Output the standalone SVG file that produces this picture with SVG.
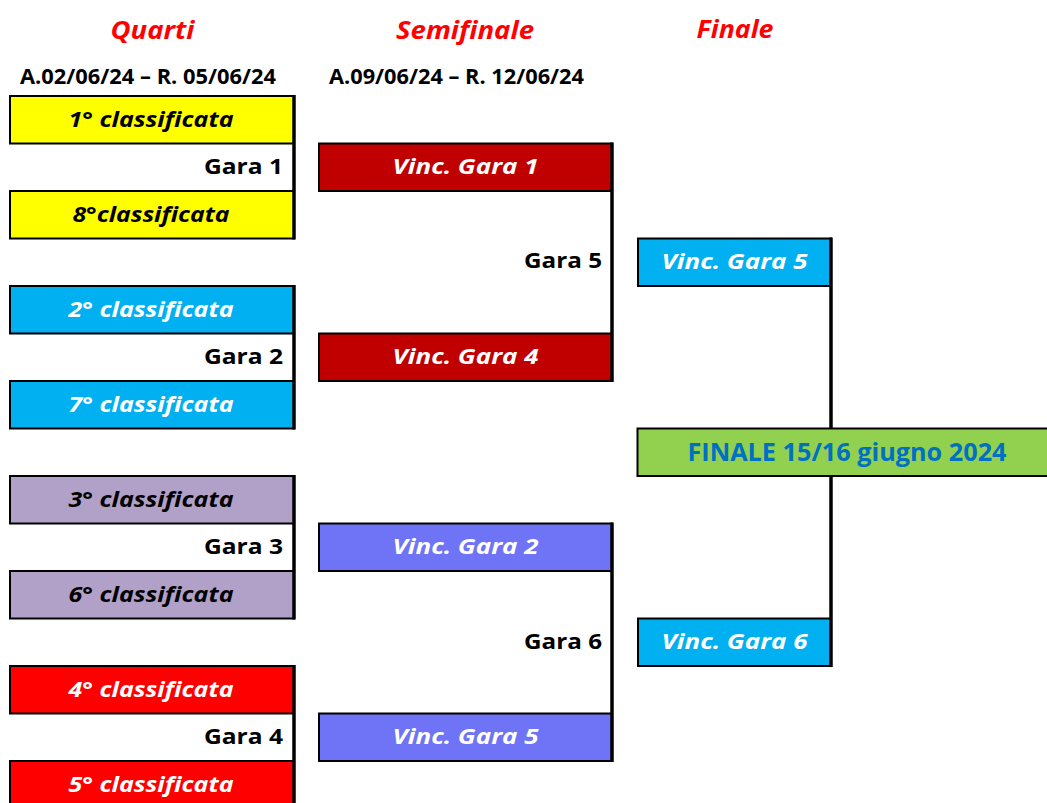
<svg xmlns="http://www.w3.org/2000/svg" width="1047" height="803" viewBox="0 0 1047 803">
<style>
.box{stroke:#000;stroke-width:2}
.t{font-family:"Open Sans","Noto Sans","Liberation Sans",sans-serif;font-weight:bold;font-size:22px;text-anchor:middle}
.i{font-style:italic}
.w{fill:#fff}
.k{fill:#000}
.lbl{font-family:"Open Sans","Noto Sans","Liberation Sans",sans-serif;font-weight:bold;font-size:22px;text-anchor:end;fill:#000}
.title{font-family:"Open Sans","Noto Sans","Liberation Sans",sans-serif;font-weight:bold;font-style:italic;font-size:25px;text-anchor:middle;fill:#ff0000}
.date{font-family:"Open Sans","Noto Sans","Liberation Sans",sans-serif;font-weight:bold;font-size:20.5px;text-anchor:middle;fill:#000}
.thick{stroke:#000;stroke-width:3.5;fill:none}
.yel{fill:#ffff00}.cy{fill:#00b0f0}.lav{fill:#b1a0c7}.red{fill:#ff0000}.dred{fill:#c00000}.peri{fill:#6f73f5}.grn{fill:#92d050}
</style>
<rect width="1047" height="803" fill="#fff"/>
<g id="titles">
<text class="title" x="152.5" y="38.5" textLength="84" lengthAdjust="spacingAndGlyphs">Quarti</text>
<text class="title" x="465" y="38.5" textLength="138" lengthAdjust="spacingAndGlyphs">Semifinale</text>
<text class="title" x="735" y="37.5" textLength="77" lengthAdjust="spacingAndGlyphs">Finale</text>
<text class="date" x="148" y="84" textLength="256" lengthAdjust="spacingAndGlyphs">A.02/06/24 – R. 05/06/24</text>
<text class="date" x="456.5" y="84" textLength="255" lengthAdjust="spacingAndGlyphs">A.09/06/24 – R. 12/06/24</text>
</g>
<g id="q1"><rect class="box yel" x="10" y="96" width="284" height="47.5"/><text class="t i k" x="151" y="126.5" textLength="165" lengthAdjust="spacingAndGlyphs">1° classificata</text></g>
<g id="q8"><rect class="box yel" x="10" y="191" width="284" height="47.5"/><text class="t i k" x="151" y="221.5" textLength="157" lengthAdjust="spacingAndGlyphs">8°classificata</text></g>
<g id="q2"><rect class="box cy" x="10" y="286" width="284" height="47.5"/><text class="t i w" x="151" y="316.5" textLength="165" lengthAdjust="spacingAndGlyphs">2° classificata</text></g>
<g id="q7"><rect class="box cy" x="10" y="381" width="284" height="47.5"/><text class="t i w" x="151" y="411.5" textLength="165" lengthAdjust="spacingAndGlyphs">7° classificata</text></g>
<g id="q3"><rect class="box lav" x="10" y="476" width="284" height="47.5"/><text class="t i k" x="151" y="506.5" textLength="165" lengthAdjust="spacingAndGlyphs">3° classificata</text></g>
<g id="q6"><rect class="box lav" x="10" y="571" width="284" height="47.5"/><text class="t i k" x="151" y="601.5" textLength="165" lengthAdjust="spacingAndGlyphs">6° classificata</text></g>
<g id="q4"><rect class="box red" x="10" y="666" width="284" height="47.5"/><text class="t i w" x="151" y="696.5" textLength="165" lengthAdjust="spacingAndGlyphs">4° classificata</text></g>
<g id="q5"><rect class="box red" x="10" y="761" width="284" height="60"/><text class="t i w" x="151" y="791.5" textLength="165" lengthAdjust="spacingAndGlyphs">5° classificata</text></g>
<g id="s1"><rect class="box dred" x="319" y="143.5" width="293" height="47.5"/><text class="t i w" x="465.5" y="174" textLength="146" lengthAdjust="spacingAndGlyphs">Vinc. Gara 1</text></g>
<g id="s4"><rect class="box dred" x="319" y="333.5" width="293" height="47.5"/><text class="t i w" x="465.5" y="364" textLength="146" lengthAdjust="spacingAndGlyphs">Vinc. Gara 4</text></g>
<g id="s2"><rect class="box peri" x="319" y="523.5" width="293" height="47.5"/><text class="t i w" x="465.5" y="554" textLength="146" lengthAdjust="spacingAndGlyphs">Vinc. Gara 2</text></g>
<g id="s5"><rect class="box peri" x="319" y="713.5" width="293" height="47.5"/><text class="t i w" x="465.5" y="744" textLength="146" lengthAdjust="spacingAndGlyphs">Vinc. Gara 5</text></g>
<g id="f5"><rect class="box cy" x="638" y="238.5" width="193" height="47.5"/><text class="t i w" x="734.5" y="269" textLength="146" lengthAdjust="spacingAndGlyphs">Vinc. Gara 5</text></g>
<g id="f6"><rect class="box cy" x="638" y="618.5" width="193" height="47.5"/><text class="t i w" x="734.5" y="649" textLength="146" lengthAdjust="spacingAndGlyphs">Vinc. Gara 6</text></g>
<g id="finale"><rect class="box grn" x="637.5" y="428.5" width="430" height="47.5"/><text class="t" x="847" y="460.5" style="font-size:24.5px;fill:#0070c0" textLength="319" lengthAdjust="spacingAndGlyphs">FINALE 15/16 giugno 2024</text></g>
<g id="connectors">
<line class="thick" x1="294" y1="95" x2="294" y2="239.5"/>
<line class="thick" x1="294" y1="285" x2="294" y2="429.5"/>
<line class="thick" x1="294" y1="475" x2="294" y2="619.5"/>
<line class="thick" x1="294" y1="665" x2="294" y2="810"/>
<line class="thick" x1="612" y1="142.5" x2="612" y2="382"/>
<line class="thick" x1="612" y1="522.5" x2="612" y2="762"/>
<line class="thick" x1="831" y1="237.5" x2="831" y2="428.5"/>
<line class="thick" x1="831" y1="476" x2="831" y2="667"/>
<text class="lbl" x="283" y="174" textLength="79" lengthAdjust="spacingAndGlyphs">Gara 1</text>
<text class="lbl" x="283" y="364" textLength="79" lengthAdjust="spacingAndGlyphs">Gara 2</text>
<text class="lbl" x="283" y="554" textLength="79" lengthAdjust="spacingAndGlyphs">Gara 3</text>
<text class="lbl" x="283" y="744" textLength="79" lengthAdjust="spacingAndGlyphs">Gara 4</text>
<text class="lbl" x="602" y="268" textLength="78" lengthAdjust="spacingAndGlyphs">Gara 5</text>
<text class="lbl" x="602" y="649" textLength="78" lengthAdjust="spacingAndGlyphs">Gara 6</text>
</g>
</svg>
